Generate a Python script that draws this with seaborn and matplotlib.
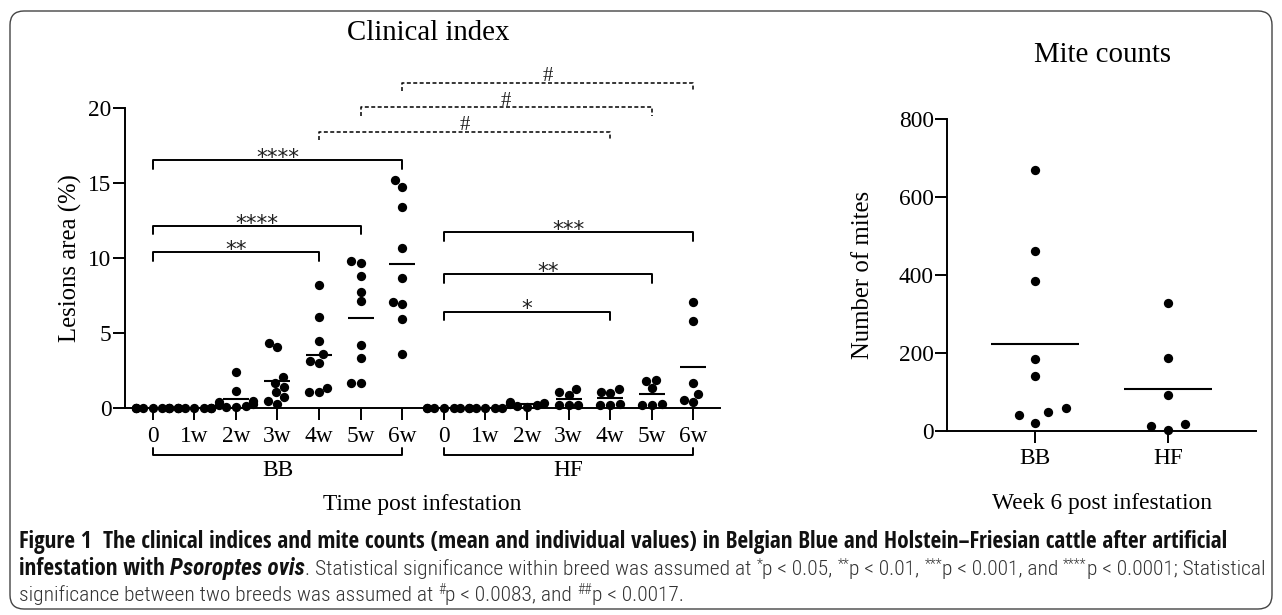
import warnings
import pandas as pd
import seaborn as sns
import matplotlib.pyplot as plt
from matplotlib.font_manager import fontManager, weight_dict, FontProperties
from matplotlib.patches import FancyBboxPatch
from matplotlib.transforms import IdentityTransform

warnings.filterwarnings("ignore")

# lesion area (%) per animal and time point, BB n=9, HF n=6
weeks = ["0", "1w", "2w", "3w", "4w", "5w", "6w"]
breeds = ["BB", "HF"]
bb_0w = [0, 0, 0, 0, 0, 0, 0, 0, 0]
bb_1w = [0, 0, 0, 0, 0, 0, 0, 0, 0]
bb_2w = [2.42, 1.13, 0.45, 0.4, 0.3, 0.2, 0.15, 0.1, 0.05]
bb_3w = [4.36, 4.04, 2.04, 1.69, 1.42, 1.04, 0.71, 0.47, 0.27]
bb_4w = [8.2, 6.05, 4.47, 3.6, 3.16, 3.02, 1.36, 1.07, 1.04]
bb_5w = [9.8, 9.69, 8.8, 7.76, 7.13, 4.2, 3.31, 1.64, 1.64]
bb_6w = [15.2, 14.76, 13.42, 10.69, 8.69, 7.07, 6.93, 5.91, 3.6]
hf_0w = [0, 0, 0, 0, 0, 0]
hf_1w = [0, 0, 0, 0, 0, 0]
hf_2w = [0.42, 0.31, 0.3, 0.2, 0.15, 0.1]
hf_3w = [1.24, 1.09, 0.87, 0.2, 0.2, 0.2]
hf_4w = [1.24, 1.09, 0.98, 0.25, 0.22, 0.2]
hf_5w = [1.87, 1.8, 1.31, 0.24, 0.2, 0.2]
hf_6w = [7.04, 5.82, 1.69, 0.93, 0.53, 0.38]

# mite counts at week 6
mites_bb = [670, 463, 385, 185, 140, 58, 49, 41, 20]
mites_hf = [328, 187, 92, 17, 13, 3]

# significance brackets (from group, to group, bar height, label)
within = [(0, 4, 10.38, "**"), (0, 5, 12.15, "****"), (0, 6, 16.53, "****"),
          (7, 11, 6.42, "*"), (7, 12, 8.91, "**"), (7, 13, 11.71, "***")]
between = [(4, 11, 18.42, "#"), (5, 12, 20.04, "#"), (6, 13, 21.69, "#")]

caption = [
    [("Figure 1  The clinical indices and mite counts (mean and individual values) in Belgian Blue "
      "and Holstein\u2013Friesian cattle after artificial", "b")],
    [("infestation with ", "b"), ("Psoroptes ovis", "bi"),
     (". Statistical significance within breed was assumed at ", "r"), ("*", "s"),
     ("p < 0.05, ", "r"), ("**", "s"), ("p < 0.01, ", "r"), ("***", "s"),
     ("p < 0.001, and ", "r"), ("****", "s"), ("p < 0.0001; Statistical", "r")],
    [("significance between two breeds was assumed at ", "r"), ("#", "s"),
     ("p < 0.0083, and ", "r"), ("##", "s"), ("p < 0.0017.", "r")],
]

W, H = 1282, 615
sns.set_style("ticks")
plt.rcParams["font.family"] = ["Liberation Serif", "DejaVu Serif"]
plt.rcParams["axes.linewidth"] = 1.4
plt.rcParams["axes.edgecolor"] = "black"
plt.rcParams["xtick.color"] = "black"
plt.rcParams["ytick.color"] = "black"
plt.rcParams["text.color"] = "black"
FS = 16.8

fig = plt.figure(figsize=(W / 100, H / 100), dpi=100)
ax1 = fig.add_axes([125 / W, 1 - 408 / H, 595 / W, 333 / H])
ax2 = fig.add_axes([947 / W, 1 - 431 / H, 309 / W, 311.7 / H])

# long table for the clinical index
series = {"BB": [bb_0w, bb_1w, bb_2w, bb_3w, bb_4w, bb_5w, bb_6w],
          "HF": [hf_0w, hf_1w, hf_2w, hf_3w, hf_4w, hf_5w, hf_6w]}
rows = []
for b in breeds:
    for wk, vals in zip(weeks, series[b]):
        for v in vals:
            rows.append((b + " " + wk, v))
lesions = pd.DataFrame(rows, columns=["group", "area"])
order = [b + " " + wk for b in breeds for wk in weeks]

sns.swarmplot(data=lesions, x="group", y="area", order=order, color="black",
              size=6.7, ax=ax1, clip_on=False)
sns.pointplot(data=lesions, x="group", y="area", order=order, estimator="mean",
              errorbar=None, color="black", marker="_", markersize=19.4,
              markeredgewidth=1.5, linestyle="none", ax=ax1)

for x0, x1, h, lab in within:
    ax1.plot([x0, x0, x1, x1], [h - 0.58, h, h, h - 0.58], color="black",
             lw=1.4, clip_on=False)
    ax1.text((x0 + x1) / 2, h - 0.25, lab, ha="center", va="baseline",
             fontsize=15.5, family="DejaVu Sans", color="#222")
for x0, x1, h, lab in between:
    ax1.plot([x0, x0, x1, x1], [h - 0.58, h, h, h - 0.58], color="black",
             lw=1.1, ls=(0, (2.6, 1.6)), clip_on=False)
    ax1.text((x0 + x1) / 2, h + 0.12, lab, ha="center", va="baseline",
             fontsize=15, color="#222")

ax1.set_xlim(-0.666, 13.64)
ax1.set_ylim(0, 22.2)
ax1.set_yticks([0, 5, 10, 15, 20])
ax1.set_xticks(range(14))
ax1.set_xticklabels(weeks * 2)
sns.despine(ax=ax1)
ax1.spines["left"].set_bounds(0, 20)
ax1.tick_params(length=8.6, width=1.4, labelsize=FS)
ax1.tick_params(axis="x", pad=4)
ax1.tick_params(axis="y", pad=1)
ax1.set_xlabel("")
ax1.set_ylabel("")

# breed brackets under the week labels
for i, b in enumerate(breeds):
    x0, x1 = 7 * i, 7 * i + 6
    ax1.plot([x0, x0, x1, x1], [-2.67, -3.13, -3.13, -2.67], color="black",
             lw=1.4, clip_on=False)
    ax1.text((x0 + x1) / 2, -4.2, b, ha="center", va="center", fontsize=FS)
ax1.text(0.5, -0.291, "Time post infestation", transform=ax1.transAxes,
         ha="center", va="center", fontsize=FS)

# mite counts; the clear edge widens the swarm spacing like the original
mites = pd.DataFrame({"breed": ["BB"] * len(mites_bb) + ["HF"] * len(mites_hf),
                      "count": mites_bb + mites_hf})
sns.swarmplot(data=mites, x="breed", y="count", order=breeds, color="black",
              size=6.7, edgecolor=(0, 0, 0, 0), linewidth=5.5, ax=ax2, clip_on=False)
sns.pointplot(data=mites, x="breed", y="count", order=breeds, estimator="mean",
              errorbar=None, color="black", marker="_", markersize=63,
              markeredgewidth=1.5, linestyle="none", ax=ax2)
ax2.set_xlim(-0.662, 1.662)
ax2.set_ylim(0, 800)
ax2.set_yticks([0, 200, 400, 600, 800])
sns.despine(ax=ax2)
ax2.tick_params(length=8.6, width=1.4, labelsize=FS)
ax2.tick_params(axis="x", pad=4)
ax2.tick_params(axis="y", pad=1)
ax2.set_xlabel("")
ax2.set_ylabel("")
ax2.text(0.5, -0.231, "Week 6 post infestation", transform=ax2.transAxes,
         ha="center", va="center", fontsize=FS)

fig.text(428 / W, 1 - 40 / H, "Clinical index", ha="center", va="baseline", fontsize=20.8)
fig.text(1102 / W, 1 - 62 / H, "Mite counts", ha="center", va="baseline", fontsize=20.8)
fig.text(70 / W, 1 - 258 / H, "Lesions area (%)", rotation=90, ha="center",
         va="center", fontsize=17.8)
fig.text(863 / W, 1 - 275 / H, "Number of mites", rotation=90, ha="center",
         va="center", fontsize=17.8)

# rounded frame
fig.add_artist(FancyBboxPatch((10, 6), 1262, 598, boxstyle="round,pad=0,rounding_size=14",
                              transform=IdentityTransform(), fill=False,
                              ec="#444", lw=1.0))

# caption fonts: narrow sans faces, found by their properties
prefer = ["Liberation Sans Narrow", "Open Sans Condensed", "Roboto Condensed",
          "Noto Sans", "DejaVu Sans"]


def wnum(w):
    return w if isinstance(w, (int, float)) else weight_dict.get(w, 400)


def is_narrow(f):
    return ("Narrow" in f.name or "Condensed" in f.name
            or "condensed" in str(f.stretch))


narrow = [f for f in fontManager.ttflist if is_narrow(f)]


def pick(target, italic):
    ok = [f for f in narrow if abs(wnum(f.weight) - target) <= 150
          and (f.style != "normal") == italic]
    ok.sort(key=lambda f: (prefer.index(f.name) if f.name in prefer else 50,
                           abs(wnum(f.weight) - target)))
    return ok[0].fname if ok else None


def make_prop(target, italic):
    path = pick(target, italic)
    if path is None and italic:
        path = pick(target, False)
    if path is None:
        return FontProperties(family="DejaVu Sans",
                              weight="bold" if target > 500 else "normal",
                              style="italic" if italic else "normal")
    return FontProperties(fname=path)


props = {"b": make_prop(700, False), "bi": make_prop(700, True),
         "r": make_prop(300, False)}
props["s"] = props["r"]
colors = {"b": "#111", "bi": "#111", "r": "#333", "s": "#333"}

fig.canvas.draw()
renderer = fig.canvas.get_renderer()


def run_width(s, kind, size):
    p = props[kind].copy()
    p.set_size(size)
    t = fig.text(0, 0, s + "|", fontproperties=p)
    w = t.get_window_extent(renderer).width
    t.set_text("|")
    w -= t.get_window_extent(renderer).width
    t.remove()
    return w


def kind_size(kind, bsize, rsize):
    if kind in ("b", "bi"):
        return bsize
    return rsize * 0.65 if kind == "s" else rsize


# bold size from the first line, regular size so the second line fills the frame
bsize = 10 * 1213 / run_width(caption[0][0][0], "b", 10)
bold2 = sum(run_width(s, k, bsize) for s, k in caption[1] if k in ("b", "bi"))
reg2 = sum(run_width(s, k, kind_size(k, 10, 10)) for s, k in caption[1] if k in ("r", "s"))
rsize = 10 * (1249 - bold2) / reg2
rsize = min(max(rsize, bsize * 0.85), bsize * 1.2)

for line, y in zip(caption, [548, 575, 601]):
    x = 19
    for s, k in line:
        size = kind_size(k, bsize, rsize)
        p = props[k].copy()
        p.set_size(size)
        yy = y - (rsize * 0.45 if k == "s" else 0)
        fig.text(x / W, 1 - yy / H, s, fontproperties=p, color=colors[k],
                 va="baseline", ha="left")
        x += run_width(s, k, size)

fig.savefig("out.png", dpi=100)
